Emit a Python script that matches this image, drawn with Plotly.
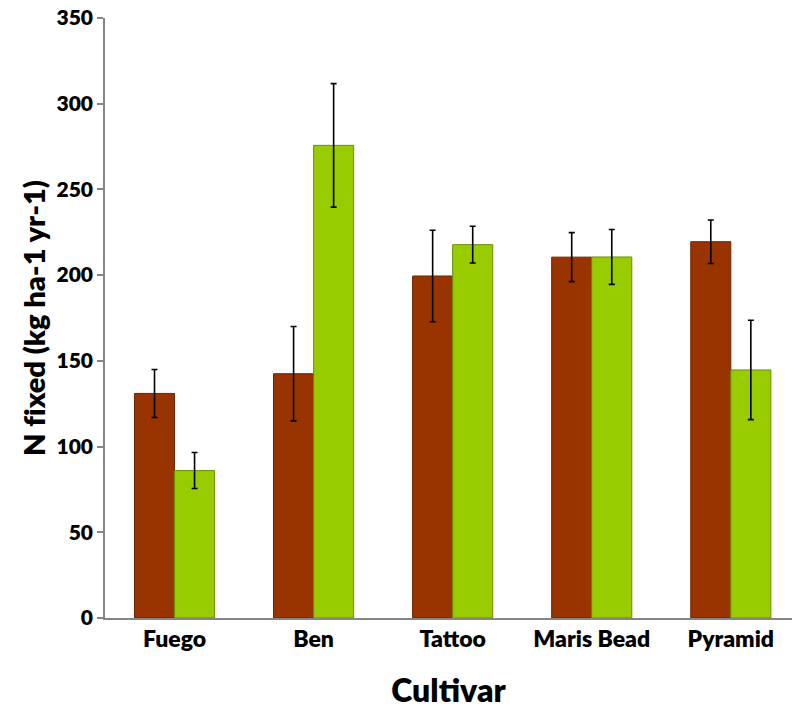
import plotly.graph_objects as go

cultivars = ["Fuego", "Ben", "Tattoo", "Maris Bead", "Pyramid"]
series1_values = [131, 142.5, 199.5, 210.5, 219.5]
series1_errors = [14, 27.5, 26.7, 14.3, 12.7]
series2_values = [86, 275.7, 217.8, 210.6, 144.7]
series2_errors = [10.5, 36, 10.7, 16, 29]
y_ticks = [0, 50, 100, 150, 200, 250, 300, 350]

font_family = "Lato, 'Open Sans', sans-serif"

fig = go.Figure()
fig.add_trace(go.Bar(
    x=cultivars, y=series1_values,
    marker=dict(color="#993300", line=dict(color="#6b2400", width=1)),
    error_y=dict(type="data", array=series1_errors, visible=True,
                 color="black", thickness=1.6, width=3),
    showlegend=False,
))
fig.add_trace(go.Bar(
    x=cultivars, y=series2_values,
    marker=dict(color="#99CC00", line=dict(color="#6b8f00", width=1)),
    error_y=dict(type="data", array=series2_errors, visible=True,
                 color="black", thickness=1.6, width=3),
    showlegend=False,
))

fig.update_layout(
    width=792, height=709,
    margin=dict(l=105, r=0, t=18, b=91, autoexpand=False),
    paper_bgcolor="white", plot_bgcolor="white",
    barmode="group", bargap=0.424, bargroupgap=0,
    font=dict(family=font_family, color="black"),
)
fig.update_xaxes(
    range=[-0.5, 4.44],
    showline=True, linecolor="#868686", linewidth=1.5,
    ticks="", showgrid=False, zeroline=False,
    tickfont=dict(size=23, family=font_family, weight=800),
    title=dict(text="Cultivar", font=dict(size=32, family=font_family, weight=800), standoff=32),
    automargin=False,
)
fig.update_yaxes(
    range=[0, 350], tickvals=y_ticks,
    showline=True, linecolor="#868686", linewidth=1.5,
    ticks="outside", ticklen=6, tickcolor="#868686", tickwidth=1.5,
    showgrid=False, zeroline=False,
    tickfont=dict(size=21, family=font_family, weight=800),
    title=dict(text="N f\u200cixed (kg ha-1 yr-1)", font=dict(size=29, family=font_family, weight=800), standoff=2),
    automargin=False,
)

fig.write_html(
    "out.html",
    config={"displayModeBar": False},
    post_script="document.body.style.margin='0';document.body.style.overflow='hidden';",
)
